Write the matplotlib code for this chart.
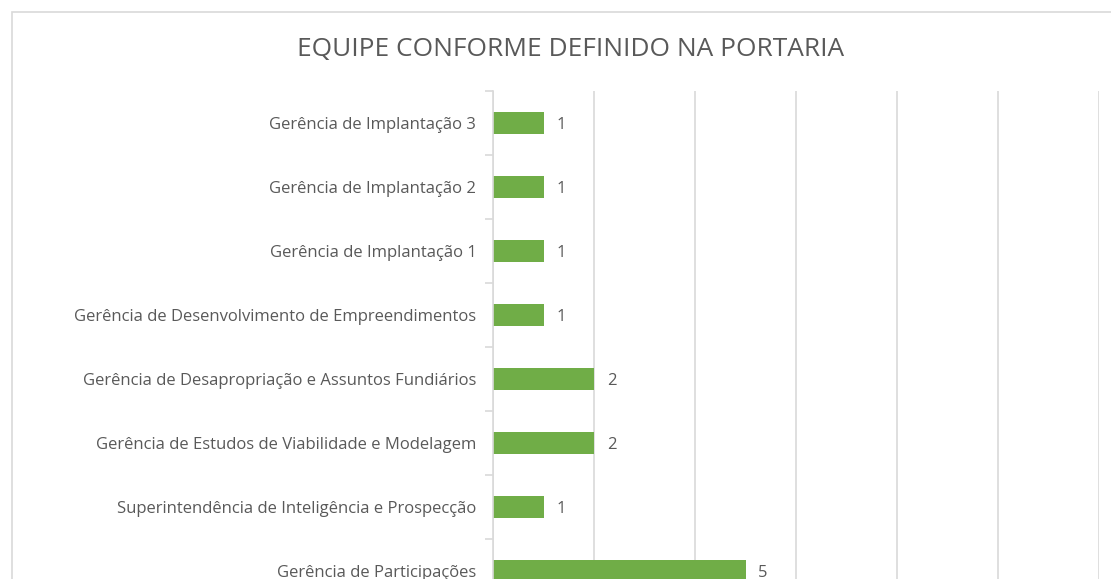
import matplotlib.pyplot as plt
from matplotlib.patches import Rectangle

# --- Data -----------------------------------------------------------------

categories = [
    "Gerência de Implantação 3",
    "Gerência de Implantação 2",
    "Gerência de Implantação 1",
    "Gerência de Desenvolvimento de Empreendimentos",
    "Gerência de Desapropriação e Assuntos Fundiários",
    "Gerência de Estudos de Viabilidade e Modelagem",
    "Superintendência de Inteligência e Prospecção",
    "Gerência de Participações",
]
values = [1, 1, 1, 1, 2, 2, 1, 5]
x_ticks = [0, 2, 4, 6, 8, 10, 12]

TITLE = "EQUIPE CONFORME DEFINIDO NA PORTARIA"
BAR_COLOR = "#70AD47"
TEXT_COLOR = "#595959"
GRID_COLOR = "#D9D9D9"

plt.rcParams["font.family"] = ["Open Sans", "DejaVu Sans"]

W, H = 1111, 579
fig = plt.figure(figsize=(W / 100, H / 100), dpi=100)

# chart border (cropped at right/bottom like the reference)
fig.patches.append(Rectangle((12 / W, -0.1), 1.2, 1 - 12 / H + 0.1,
                             transform=fig.transFigure, fill=False,
                             edgecolor=GRID_COLOR, linewidth=1.2))

# axes extends past the bottom edge of the figure
left, right = 493 / W, 1099 / W
top, bottom = 1 - 91 / H, 1 - 603 / H
ax = fig.add_axes([left, bottom, right - left, top - bottom])

y = list(range(len(categories)))
ax.barh(y, values, height=0.35, color=BAR_COLOR, zorder=3)
ax.set_ylim(len(categories) - 0.5, -0.5)
ax.set_xlim(0, 12)

for yi, v in zip(y, values):
    ax.text(v + 0.25, yi, str(v), va="center_baseline", ha="left",
            fontsize=12, color=TEXT_COLOR)

ax.set_yticks(y)
ax.set_yticklabels(categories, fontsize=12, color=TEXT_COLOR)
ax.set_yticks([i - 0.5 for i in range(len(categories) + 1)], minor=True)
ax.tick_params(axis="y", which="major", length=0, pad=12)
ax.tick_params(axis="y", which="minor", length=6, color=GRID_COLOR, width=1.2)

ax.set_xticks(x_ticks)
ax.tick_params(axis="x", length=0, labelbottom=False)
ax.grid(axis="x", color=GRID_COLOR, linewidth=1.2, zorder=0)

for side in ["top", "right", "bottom"]:
    ax.spines[side].set_visible(False)
ax.spines["left"].set_color(GRID_COLOR)
ax.spines["left"].set_linewidth(1.2)
ax.spines["left"].set_zorder(4)

fig.text(571 / W, 1 - 49 / H, TITLE, ha="center", va="center",
         fontsize=18.9, color=TEXT_COLOR)

fig.savefig("out.png", dpi=100)
